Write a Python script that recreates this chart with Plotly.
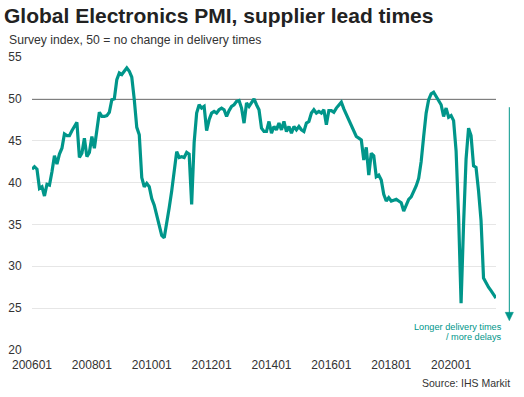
import pandas as pd
import plotly.graph_objects as go

# Monthly index values, Jan 2006 .. Jul 2021
values = [
    41.6, 41.9, 41.6, 39.3, 39.5, 38.4, 39.8, 39.7, 41.3, 43.2, 42.2, 43.4,
    44.1, 45.8, 45.6, 45.6, 46.2, 46.8, 47.2, 43.0, 43.5, 45.3, 43.1, 43.6,
    45.5, 44.1, 46.5, 48.4, 47.9, 47.9, 48.0, 48.4, 49.9, 50.0, 52.3, 53.1,
    52.9, 53.3, 53.7, 53.3, 52.6, 49.9, 46.6, 45.7, 40.6, 39.5, 39.9, 39.5,
    38.1, 37.3, 36.0, 34.7, 33.7, 33.4, 35.5, 37.0, 39.0, 41.5, 43.7, 43.0,
    43.1, 43.0, 43.6, 43.4, 37.4, 44.8, 48.3, 49.3, 48.9, 49.1, 46.2, 47.5,
    48.3, 48.5, 48.3, 48.7, 48.9, 48.7, 47.9, 48.6, 49.1, 49.3, 49.7, 49.8,
    48.9, 47.1, 49.5, 49.1, 49.5, 50.0, 49.3, 48.7, 46.5, 46.1, 46.1, 47.3,
    45.9, 46.7, 46.3, 47.1, 46.3, 47.3, 46.1, 46.7, 45.9, 46.7, 46.3, 46.7,
    46.3, 46.1, 47.1, 47.3, 48.3, 48.7, 48.3, 48.5, 48.3, 48.7, 46.9, 48.6,
    48.6, 48.4, 48.9, 49.2, 49.6, 48.8, 48.1, 47.6, 46.7, 46.1, 45.5, 45.3,
    45.1, 42.7, 44.2, 40.9, 43.5, 43.2, 40.7, 40.9, 40.3, 38.6, 37.8, 38.2,
    37.8, 37.9, 38.0, 37.8, 37.6, 36.6, 37.4, 38.0, 38.3, 38.9, 39.6, 40.5,
    42.5, 45.5, 48.3, 49.9, 50.6, 50.8, 50.3, 49.9, 49.3, 47.9, 48.9, 47.8,
    48.0, 47.4, 43.8, 36.0, 25.6, 35.0, 42.8, 46.5, 45.6, 42.0, 41.8, 39.0,
    35.5, 28.6, 28.0, 27.5, 27.1, 26.7, 26.2,
]
months = [d.strftime("%Y%m") for d in pd.date_range("2006-01-01", periods=len(values), freq="MS")]
tick_labels = ["200601", "200801", "201001", "201201", "201401", "201601", "201801", "202001"]
y_ticks = [20, 25, 30, 35, 40, 45, 50, 55]
reference_level = 50
arrow_top, arrow_tip = 49.0, 23.5
note_lines = ["Longer delivery times", "/ more delays"]
note_levels = [22.8, 21.55]

TEAL = "#00968A"
FONT = "Liberation Sans, Arial, sans-serif"

fig = go.Figure()
fig.add_trace(go.Scatter(
    x=months, y=values, mode="lines",
    line=dict(color=TEAL, width=3.2), hoverinfo="skip", showlegend=False,
))

fig.add_hline(y=reference_level, line=dict(color="#000000", width=1.5), layer="below")

# arrow on the right (outside the plot area)
ax_x = 1.0287
head_h = 1.0
head_w = 0.0088
fig.add_shape(type="line", xref="paper", yref="y",
              x0=ax_x, x1=ax_x, y0=arrow_top, y1=arrow_tip + head_h * 0.5,
              line=dict(color=TEAL, width=1))
fig.add_shape(type="path", xref="paper", yref="y",
              path=f"M {ax_x - head_w},{arrow_tip + head_h} L {ax_x + head_w},{arrow_tip + head_h} L {ax_x},{arrow_tip} Z",
              fillcolor=TEAL, line=dict(color=TEAL, width=0.5))

annotations = [
    dict(text="<b>Global Electronics PMI, supplier lead times</b>",
         xref="paper", yref="paper", x=-0.064, y=1.143,
         xanchor="left", yanchor="middle", showarrow=False,
         font=dict(size=21, color="#222222", family=FONT)),
    dict(text="Survey index, 50 = no change in delivery times",
         xref="paper", yref="paper", x=-0.054, y=1.059,
         xanchor="left", yanchor="middle", showarrow=False,
         font=dict(size=12.2, color="#333333", family=FONT)),
    dict(text="Source: IHS Markit",
         xref="paper", yref="paper", x=1.0345, y=-0.113,
         xanchor="right", yanchor="middle", showarrow=False,
         font=dict(size=10.5, color="#333333", family=FONT)),
]
for txt, lvl in zip(note_lines, note_levels):
    annotations.append(dict(text=txt, xref="paper", yref="y", x=1.017, y=lvl,
                            xanchor="right", yanchor="middle", showarrow=False,
                            font=dict(size=9.2, color=TEAL, family=FONT)))

fig.update_layout(
    width=524, height=397,
    margin=dict(l=32, r=28, t=57, b=47),
    paper_bgcolor="white", plot_bgcolor="white",
    font=dict(family=FONT, size=12, color="#333333"),
    xaxis=dict(
        type="category", range=[0, len(values) - 1], automargin=False,
        tickmode="array", tickvals=tick_labels, ticktext=tick_labels,
        showgrid=False, showline=False, zeroline=False,
        ticks="outside", ticklen=4, tickcolor="rgba(0,0,0,0)",
        tickfont=dict(size=12, color="#333333"),
    ),
    yaxis=dict(
        range=[20, 55], tickvals=y_ticks, automargin=False,
        showgrid=True, gridcolor="#e6e6e6", gridwidth=1,
        showline=False, zeroline=False,
        ticks="outside", ticklen=7, tickcolor="rgba(0,0,0,0)",
        tickfont=dict(size=12, color="#333333"),
    ),
    annotations=annotations,
)

fig.write_html(
    "out.html",
    config={"displayModeBar": False, "staticPlot": True},
    post_script="document.body.style.margin='0';document.body.style.overflow='hidden';",
)
